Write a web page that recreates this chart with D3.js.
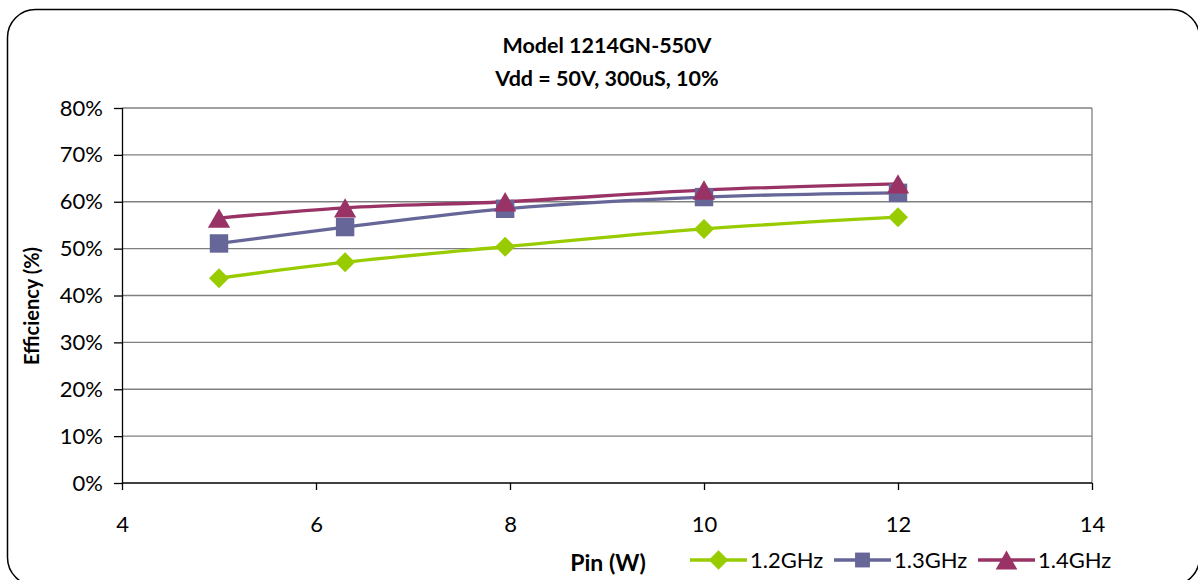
<!DOCTYPE html>
<html>
<head>
<meta charset="utf-8">
<script src="https://cdn.jsdelivr.net/npm/d3@7.9.0/dist/d3.min.js"></script>
<style>
  body { margin: 0; background: #fff; }
  svg { display: block; font-family: Lato, "Liberation Sans", sans-serif; }
</style>
</head>
<body>
<svg id="chart" width="1198" height="580"></svg>
<script>
const pinW = [5, 6.3, 7.95, 10, 12];
const eff12 = [43.7, 47.1, 50.4, 54.2, 56.7];
const eff13 = [51.1, 54.6, 58.5, 61.0, 61.9];
const eff14 = [56.5, 58.7, 60.0, 62.5, 63.8];
const seriesNames = ["1.2GHz", "1.3GHz", "1.4GHz"];
const xTicks = [4, 6, 8, 10, 12, 14];
const yTicks = [0, 10, 20, 30, 40, 50, 60, 70, 80];

const colors = ["#99cc00", "#666699", "#993366"];
const series = [eff12, eff13, eff14];

const svg = d3.select("#chart");

// outer rounded frame
svg.append("rect")
  .attr("x", 7.5).attr("y", 9.5)
  .attr("width", 1192).attr("height", 576)
  .attr("rx", 28).attr("ry", 28)
  .attr("fill", "#fff").attr("stroke", "#000").attr("stroke-width", 1.5);

const margin = { top: 108, left: 122 };
const width = 1092 - 122, height = 483 - 108;

const x = d3.scaleLinear().domain([4, 14]).range([0, width]);
const y = d3.scaleLinear().domain([0, 80]).range([height, 0]);

const g = svg.append("g").attr("transform", `translate(${margin.left},${margin.top})`);

// gridlines
g.append("g")
  .selectAll("line")
  .data(yTicks.filter(d => d > 0))
  .join("line")
  .attr("x1", 0).attr("x2", width)
  .attr("y1", d => y(d)).attr("y2", d => y(d))
  .attr("stroke", "#808080").attr("stroke-width", 1.3);

// plot border right
g.append("line")
  .attr("x1", width).attr("x2", width).attr("y1", 0).attr("y2", height)
  .attr("stroke", "#808080").attr("stroke-width", 1.3);

// axes
const yAxis = g.append("g")
  .call(d3.axisLeft(y).tickValues(yTicks).tickSize(8).tickPadding(11).tickFormat(d => d + "%"));
const xAxis = g.append("g")
  .attr("transform", `translate(0,${height})`)
  .call(d3.axisBottom(x).tickValues(xTicks).tickSize(7).tickPadding(26).tickFormat(d3.format("d")));

[yAxis, xAxis].forEach(a => {
  a.select(".domain").attr("stroke", "#000").attr("stroke-width", 1.3);
  a.selectAll(".tick line").attr("stroke", "#000").attr("stroke-width", 1.3);
  a.selectAll(".tick text").attr("font-size", 22).attr("fill", "#000")
    .attr("font-family", "Lato, sans-serif");
});
xAxis.select(".domain").attr("d", `M0.5,0H${width}`);
yAxis.select(".domain").attr("d", `M0.5,0V${height}`);

// lines
const line = d3.line()
  .x((d, i) => x(pinW[i]))
  .y(d => y(d))
  .curve(d3.curveCatmullRom.alpha(0.5));

series.forEach((s, k) => {
  g.append("path")
    .datum(s)
    .attr("fill", "none")
    .attr("stroke", colors[k])
    .attr("stroke-width", 3.3)
    .attr("d", line);
});

// marker shapes: diamond = rotated square, square, triangle (bbox centred)
function marker(sel, k, scale) {
  if (k === 0) {
    sel.attr("d", d3.symbol().type(d3.symbolSquare).size(200 * scale))
      .attr("transform", function () { return d3.select(this).attr("transform") + " rotate(45)"; });
  } else if (k === 1) {
    sel.attr("d", d3.symbol().type(d3.symbolSquare).size(340 * scale));
  } else {
    sel.attr("d", d3.symbol().type(d3.symbolTriangle).size(215 * scale))
      .attr("transform", function () { return d3.select(this).attr("transform") + ` translate(0,${3.2 * Math.sqrt(scale)})`; });
  }
}

series.forEach((s, k) => {
  g.append("g")
    .selectAll("path")
    .data(s)
    .join("path")
    .attr("transform", (d, i) => `translate(${x(pinW[i])},${y(d)})`)
    .attr("fill", colors[k])
    .call(marker, k, 1);
});

// titles
svg.append("text")
  .attr("x", 607).attr("y", 53)
  .attr("text-anchor", "middle").attr("font-weight", "bold").attr("font-size", 21.5)
  .text("Model 1214GN-550V");
svg.append("text")
  .attr("x", 607).attr("y", 86)
  .attr("text-anchor", "middle").attr("font-weight", "bold").attr("font-size", 21.5)
  .text("Vdd = 50V, 300uS, 10%");

svg.append("text")
  .attr("transform", "translate(39,306) rotate(-90)")
  .attr("text-anchor", "middle").attr("font-weight", "bold").attr("font-size", 20)
  .text("Efficiency (%)");

svg.append("text")
  .attr("x", 608).attr("y", 571)
  .attr("text-anchor", "middle").attr("font-weight", "bold").attr("font-size", 23)
  .text("Pin (W)");

// legend
const legendX = [690, 834, 978];
const legend = svg.append("g");
seriesNames.forEach((name, k) => {
  const lg = legend.append("g").attr("transform", `translate(${legendX[k]},560)`);
  lg.append("line").attr("x1", 0).attr("x2", 57).attr("y1", 0).attr("y2", 0)
    .attr("stroke", colors[k]).attr("stroke-width", 3.3);
  lg.append("path")
    .attr("transform", "translate(28.5,0)")
    .attr("fill", colors[k])
    .call(marker, k, [0.95, 0.65, 0.95][k]);
  lg.append("text").attr("x", 60).attr("y", 8).attr("font-size", 22).text(name);
});
</script>
</body>
</html>
